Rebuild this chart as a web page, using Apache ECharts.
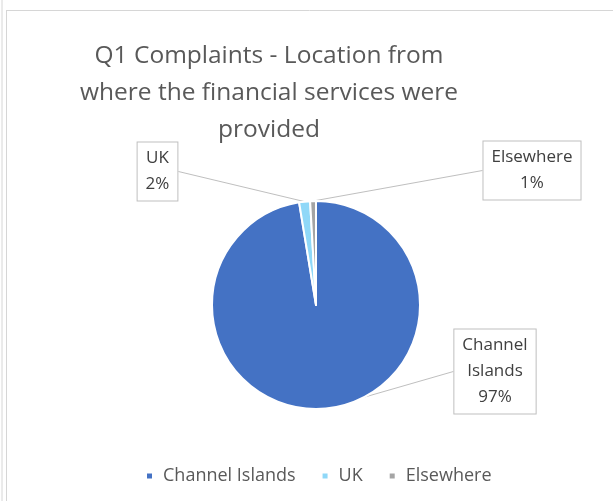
<!DOCTYPE html>
<html>
<head>
<meta charset="utf-8">
<script src="https://cdn.jsdelivr.net/npm/echarts@6/dist/echarts.min.js"></script>
<style>html,body{margin:0;padding:0;background:#fff;}#c{width:613px;height:501px;}</style>
</head>
<body>
<div id="c"></div>
<script>
var titleText = 'Q1 Complaints - Location from\nwhere the financial services were\nprovided';
var categories = ['Channel Islands', 'UK', 'Elsewhere'];
var values = [97.4, 1.7, 0.9];
var colors = ['#4472C4', '#8FD8F8', '#A5A5A5'];
var labelPos = [[495, 371.5], [157.5, 171.5], [532, 170.5]];

var chart = echarts.init(document.getElementById('c'));
var fontFam = '"Open Sans", sans-serif';
chart.setOption({
  animation: false,
  backgroundColor: '#fff',
  title: {
    text: titleText,
    left: 264,
    top: 33,
    textAlign: 'center',
    textStyle: { fontFamily: fontFam, fontSize: 24.5, fontWeight: 'normal', color: '#595959', lineHeight: 37 }
  },
  legend: {
    bottom: 11,
    left: 140,
    itemWidth: 7,
    itemHeight: 7,
    itemGap: 25,
    icon: 'rect',
    data: categories,
    textStyle: { fontFamily: fontFam, fontSize: 18, color: '#595959', padding: [0, 0, 0, 5] }
  },
  graphic: [
    { type: 'line', shape: { x1: 2, y1: 0, x2: 2, y2: 501 }, style: { stroke: '#d6d6d6', lineWidth: 1 } },
    { type: 'line', shape: { x1: 6.5, y1: 10, x2: 6.5, y2: 501 }, style: { stroke: '#d6d6d6', lineWidth: 1 } },
    { type: 'line', shape: { x1: 6, y1: 10.5, x2: 613, y2: 10.5 }, style: { stroke: '#d6d6d6', lineWidth: 1 } }
  ],
  series: [{
    type: 'pie',
    center: [316, 305],
    radius: 104,
    startAngle: 90,
    clockwise: true,
    avoidLabelOverlap: false,
    data: categories.map(function (n, i) { return { name: n, value: values[i], itemStyle: { color: colors[i] } }; }),
    itemStyle: { borderColor: '#fff', borderWidth: 2 },
    label: {
      show: true,
      position: 'outside',
      formatter: function (p) { return p.name.replace(' ', '\n') + '\n' + Math.round(p.percent) + '%'; },
      fontFamily: fontFam,
      fontSize: 17,
      lineHeight: 26,
      color: '#404040',
      align: 'center',
      backgroundColor: '#fff',
      borderColor: '#bfbfbf',
      borderWidth: 1,
      padding: [3, 8, 3, 8]
    },
    labelLine: { show: true, length: 10, length2: 0, lineStyle: { color: '#bfbfbf', width: 1 } },
    labelLayout: function (p) {
      var pos = labelPos[p.dataIndex];
      return { x: pos[0], y: pos[1], align: 'center', verticalAlign: 'middle' };
    },
    emphasis: { disabled: true }
  }]
});
</script>
</body>
</html>
